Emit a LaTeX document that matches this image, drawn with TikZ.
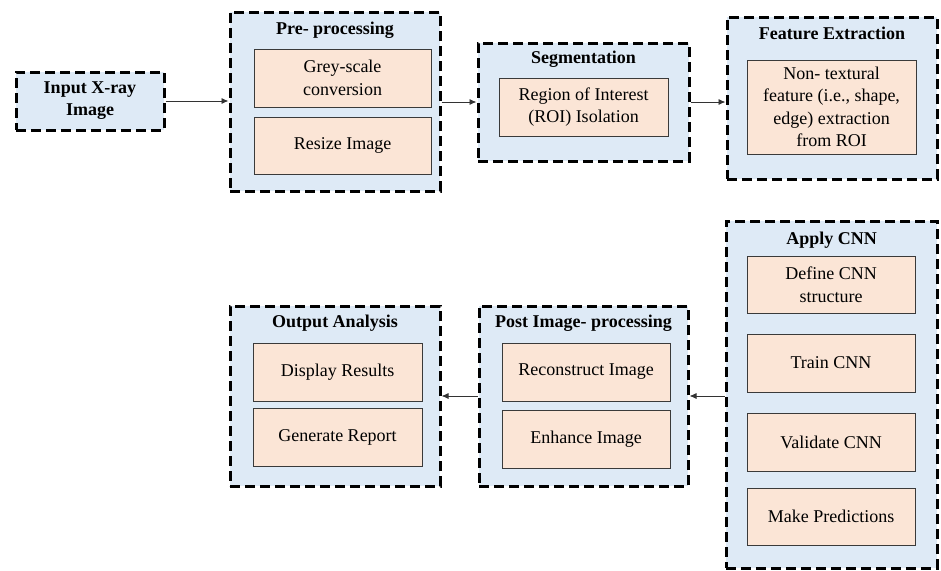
\documentclass[tikz,border=0pt]{standalone}
\usepackage{fontspec}
\newfontfamily\timesfam{Liberation Serif}
\usetikzlibrary{arrows.meta}
\definecolor{stageblue}{HTML}{DEEAF6}
\definecolor{taskpeach}{HTML}{FBE5D6}
\definecolor{taskedge}{HTML}{3A3A3A}
\definecolor{flowgrey}{HTML}{333333}
\tikzset{
  stage/.style={draw=black, fill=stageblue, line width=3pt,
    dash pattern=on 10pt off 5pt, inner sep=0pt},
  stagetitle/.style={font=\timesfam\bfseries\fontsize{18}{22}\selectfont, inner sep=0pt, align=center},
  task/.style={draw=taskedge, fill=taskpeach, line width=0.9pt, inner sep=0pt,
    align=center, font=\timesfam\fontsize{18}{22.5}\selectfont},
  flow/.style={draw=flowgrey, line width=0.9pt, -{Latex[length=7pt,width=6pt]}}
}
\begin{document}
\begin{tikzpicture}[x=1pt, y=-1pt]
\useasboundingbox (0,0) rectangle (941,570);

% input
\node[stage, minimum width=148pt, minimum height=58pt, align=center,
      font=\timesfam\bfseries\fontsize{18}{22}\selectfont] (inp) at (90,101) {Input X-ray\\Image};

% pre-processing
\node[stage, minimum width=210pt, minimum height=179pt] (pre) at (335,101.5) {};
\node[stagetitle] (pret) at (335,30) {Pre- processing};
\node[task, minimum width=177pt, minimum height=58pt] (grey) at (342.5,78) {Grey-scale\\conversion};
\node[task, minimum width=177pt, minimum height=57pt] (resz) at (342.5,145.5) {Resize Image};

% segmentation
\node[stage, minimum width=211pt, minimum height=118pt] (seg) at (583.5,102) {};
\node[stagetitle] (segt) at (583.5,59) {Segmentation};
\node[task, minimum width=169pt, minimum height=58pt] (roi) at (583.5,107) {Region of Interest\\(ROI) Isolation};

% feature extraction
\node[stage, minimum width=210pt, minimum height=162pt] (feat) at (832,98) {};
\node[stagetitle] (featt) at (832,33) {Feature Extraction};
\node[task, minimum width=169pt, minimum height=94pt] (ntf) at (831.5,107)
  {Non- textural\\feature (i.e., shape,\\edge) extraction\\from ROI};

% apply CNN
\node[stage, minimum width=211pt, minimum height=347pt] (cnn) at (831.5,394.5) {};
\node[stagetitle] (cnnt) at (831.5,240) {Apply CNN};
\node[task, minimum width=168pt, minimum height=57pt] (def) at (831,284.5) {Define CNN\\structure};
\node[task, minimum width=168pt, minimum height=58pt] (trn) at (831,363) {Train CNN};
\node[task, minimum width=168pt, minimum height=58pt] (val) at (831,442) {Validate CNN};
\node[task, minimum width=168pt, minimum height=57pt] (prd) at (831,516.5) {Make Predictions};

% post image-processing
\node[stage, minimum width=209pt, minimum height=180pt] (post) at (583.5,396) {};
\node[stagetitle] (postt) at (583.5,323) {Post Image- processing};
\node[task, minimum width=168pt, minimum height=58pt] (rec) at (586,372) {Reconstruct Image};
\node[task, minimum width=168pt, minimum height=58pt] (enh) at (586,439) {Enhance Image};

% output analysis
\node[stage, minimum width=210pt, minimum height=180pt] (outa) at (335,396) {};
\node[stagetitle] (outt) at (335,323) {Output Analysis};
\node[task, minimum width=169pt, minimum height=58pt] (disp) at (337.5,372) {Display Results};
\node[task, minimum width=169pt, minimum height=58pt] (gen) at (337.5,437) {Generate Report};

% flow between stages
\draw[flow] (inp.east) -- (pre.west |- inp.east);
\draw[flow] (pre.east |- seg.west) -- (seg.west);
\draw[flow] (seg.east) -- (feat.west |- seg.east);
\draw[flow] (cnn.west |- post.east) -- (post.east);
\draw[flow] (post.west) -- (outa.east);
\end{tikzpicture}
\end{document}
